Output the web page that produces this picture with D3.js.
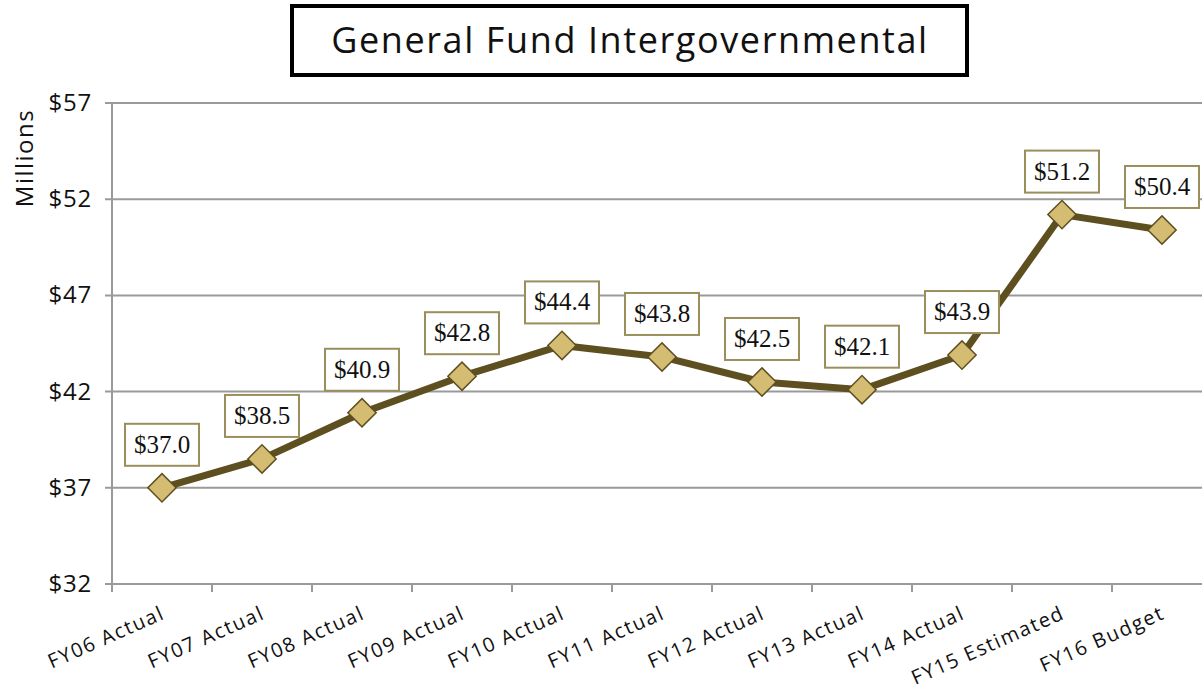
<!DOCTYPE html>
<html>
<head>
<meta charset="utf-8">
<script src="https://cdn.jsdelivr.net/npm/d3@7"></script>
<style>
  body { margin: 0; background: #fff; }
</style>
</head>
<body>
<div id="chart"></div>
<script>
var categories = ["FY06 Actual", "FY07 Actual", "FY08 Actual", "FY09 Actual", "FY10 Actual",
                  "FY11 Actual", "FY12 Actual", "FY13 Actual", "FY14 Actual", "FY15 Estimated", "FY16 Budget"];
var values = [37.0, 38.5, 40.9, 42.8, 44.4, 43.8, 42.5, 42.1, 43.9, 51.2, 50.4];
var yTicks = [32, 37, 42, 47, 52, 57];

var w = 1202, h = 690;
var plotLeft = 112, plotTop = 103, plotBottom = 584;
var sansFont = "'Open Sans', sans-serif";

var svg = d3.select("#chart").append("svg")
    .attr("width", w)
    .attr("height", h);

var xScale = d3.scaleBand()
    .domain(categories)
    .range([plotLeft, plotLeft + 100 * categories.length]);

var yScale = d3.scaleLinear()
    .domain([32, 57])
    .range([plotBottom, plotTop]);

// gridlines
svg.selectAll(".grid")
    .data(yTicks)
    .enter().append("line")
    .attr("x1", plotLeft - 7)
    .attr("x2", w)
    .attr("y1", function(d) { return yScale(d); })
    .attr("y2", function(d) { return yScale(d); })
    .attr("stroke", "#9a9a9a")
    .attr("stroke-width", 2);

// y axis line
svg.append("line")
    .attr("x1", plotLeft).attr("x2", plotLeft)
    .attr("y1", plotTop).attr("y2", plotBottom + 7)
    .attr("stroke", "#9a9a9a")
    .attr("stroke-width", 2);

// x ticks
svg.selectAll(".xtick")
    .data(categories)
    .enter().append("line")
    .attr("x1", function(d) { return xScale(d); })
    .attr("x2", function(d) { return xScale(d); })
    .attr("y1", plotBottom)
    .attr("y2", plotBottom + 8)
    .attr("stroke", "#9a9a9a")
    .attr("stroke-width", 2);

// y tick labels
svg.selectAll(".ylab")
    .data(yTicks)
    .enter().append("text")
    .attr("x", 92)
    .attr("y", function(d) { return yScale(d) + 8; })
    .attr("text-anchor", "end")
    .attr("font-family", sansFont)
    .attr("font-size", 24)
    .attr("letter-spacing", 0.8)
    .attr("fill", "#111")
    .text(function(d) { return "$" + d; });

// x labels
svg.selectAll(".xlab")
    .data(categories)
    .enter().append("text")
    .attr("transform", function(d) {
        return "translate(" + (xScale(d) + xScale.bandwidth() / 2 + 4) + "," + (plotBottom + 34) + ") rotate(-24)";
    })
    .attr("text-anchor", "end")
    .attr("font-family", sansFont)
    .attr("font-size", 20)
    .attr("letter-spacing", 1.6)
    .attr("fill", "#111")
    .text(function(d) { return d; });

// axis title
svg.append("text")
    .attr("transform", "translate(33,158) rotate(-90)")
    .attr("text-anchor", "middle")
    .attr("font-family", sansFont)
    .attr("font-size", 24)
    .attr("letter-spacing", 1.5)
    .attr("fill", "#111")
    .text("Millions");

// line
var line = d3.line()
    .x(function(d, i) { return xScale(categories[i]) + xScale.bandwidth() / 2; })
    .y(function(d) { return yScale(d); });

svg.append("path")
    .datum(values)
    .attr("d", line)
    .attr("fill", "none")
    .attr("stroke", "#5e4f20")
    .attr("stroke-width", 7)
    .attr("stroke-linejoin", "round");

// diamonds
svg.selectAll(".pt")
    .data(values)
    .enter().append("path")
    .attr("d", d3.symbol().type(d3.symbolSquare).size(400))
    .attr("transform", function(d, i) {
        return "translate(" + (xScale(categories[i]) + xScale.bandwidth() / 2) + "," + yScale(d) + ") rotate(45)";
    })
    .attr("fill", "#d4bc72")
    .attr("stroke", "#5e4f20")
    .attr("stroke-width", 1.5);

// value labels
var lab = svg.selectAll(".vlab")
    .data(values)
    .enter().append("g")
    .attr("transform", function(d, i) {
        return "translate(" + (xScale(categories[i]) + xScale.bandwidth() / 2) + "," + (yScale(d) - 43) + ")";
    });

lab.append("rect")
    .attr("x", -37)
    .attr("y", -21)
    .attr("width", 74)
    .attr("height", 42)
    .attr("fill", "#fff")
    .attr("stroke", "#9a8f5c")
    .attr("stroke-width", 2);

lab.append("text")
    .attr("y", 8)
    .attr("text-anchor", "middle")
    .attr("font-family", "'Liberation Serif', 'DejaVu Serif', serif")
    .attr("font-size", 25)
    .attr("fill", "#111")
    .text(function(d) { return "$" + d.toFixed(1); });

// title box
svg.append("rect")
    .attr("x", 292)
    .attr("y", 6)
    .attr("width", 675)
    .attr("height", 69)
    .attr("fill", "#fff")
    .attr("stroke", "#000")
    .attr("stroke-width", 4);

svg.append("text")
    .attr("x", 630)
    .attr("y", 53)
    .attr("text-anchor", "middle")
    .attr("font-family", sansFont)
    .attr("font-size", 36)
    .attr("letter-spacing", 1.6)
    .attr("fill", "#111")
    .text("General Fund Intergovernmental");
</script>
</body>
</html>
